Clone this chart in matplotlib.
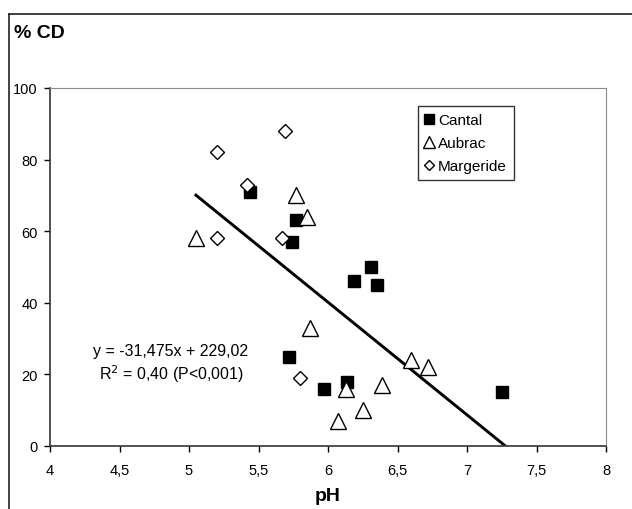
import matplotlib
matplotlib.use("Agg")
import matplotlib.pyplot as plt
from matplotlib.lines import Line2D
import numpy as np

plt.rcParams['font.family'] = ['Liberation Sans', 'DejaVu Sans']

# data (pH, % CD)
cantal_ph = [5.44, 5.77, 5.74, 6.19, 6.31, 6.35, 5.72, 5.97, 6.14, 7.25]
cantal_cd = [71, 63, 57, 46, 50, 45, 25, 16, 18, 15]
aubrac_ph = [5.05, 5.77, 5.85, 5.87, 6.13, 6.07, 6.25, 6.39, 6.60, 6.72]
aubrac_cd = [58, 70, 64, 33, 16, 7, 10, 17, 24, 22]
margeride_ph = [5.20, 5.69, 5.42, 5.20, 5.67, 5.80]
margeride_cd = [82, 88, 73, 58, 58, 19]

slope = -31.475
intercept = 229.02
fit_range = [5.05, 7.276]

x_ticks = [4, 4.5, 5, 5.5, 6, 6.5, 7, 7.5, 8]
y_ticks = [0, 20, 40, 60, 80, 100]

fig = plt.figure(figsize=(6.32, 5.1), dpi=100)
ax = fig.add_axes([50 / 632, 1 - 447 / 510, 556 / 632, 358 / 510])

# outer frame (runs off the picture to the right and bottom)
fig.add_artist(Line2D([9 / 632, 9 / 632], [-0.1, 1 - 15 / 510], transform=fig.transFigure,
                      color='#222222', lw=1.2))
fig.add_artist(Line2D([9 / 632, 1.1], [1 - 15 / 510, 1 - 15 / 510], transform=fig.transFigure,
                      color='#222222', lw=1.2))

# regression line
fx = np.array(fit_range)
ax.plot(fx, slope * fx + intercept, color='black', lw=2.1, zorder=2)

ax.plot(cantal_ph, cantal_cd, 's', color='black', ms=9, zorder=3, label='Cantal')
ax.plot(aubrac_ph, aubrac_cd, '^', mfc='white', mec='black', mew=1.0, ms=11, zorder=3, label='Aubrac')
ax.plot(margeride_ph, margeride_cd, 'D', mfc='white', mec='black', mew=1.0, ms=7, zorder=3, label='Margeride')

ax.set_xlim(4, 8)
ax.set_ylim(0, 100)
ax.set_xticks(x_ticks)
ax.set_xticklabels([f"{t:g}".replace('.', ',') for t in x_ticks])
ax.set_yticks(y_ticks)
ax.tick_params(direction='out', length=4, width=1, labelsize=10.5, colors='black')
ax.tick_params(axis='x', pad=8)
ax.tick_params(axis='y', pad=5)

for side in ['top', 'right']:
    ax.spines[side].set_color('#8c8c8c')
for side in ['left', 'bottom']:
    ax.spines[side].set_color('#333333')
    ax.spines[side].set_linewidth(1.2)

fig.text(328 / 632, 1 - 497 / 510, 'pH', fontsize=14, fontweight='bold', va='center', ha='center')
fig.text(14 / 632, 1 - 33 / 510, '% CD', fontsize=14, fontweight='bold', va='center', ha='left')

ax.text(4.87, 23, 'y = -31,475x + 229,02\nR$^2$ = 0,40 (P<0,001)', fontsize=11.5,
        ha='center', va='center', linespacing=1.25)

leg = ax.legend(loc='upper left', bbox_to_anchor=((418 - 50) / 556, 1 - (107 - 89) / 358),
                frameon=True, fancybox=False, edgecolor='black', fontsize=11,
                handlelength=0.6, handletextpad=0.25, borderpad=0.45, labelspacing=0.6,
                markerscale=0.75, borderaxespad=0)
leg.get_frame().set_linewidth(1.0)

fig.savefig('out.png', dpi=100)
